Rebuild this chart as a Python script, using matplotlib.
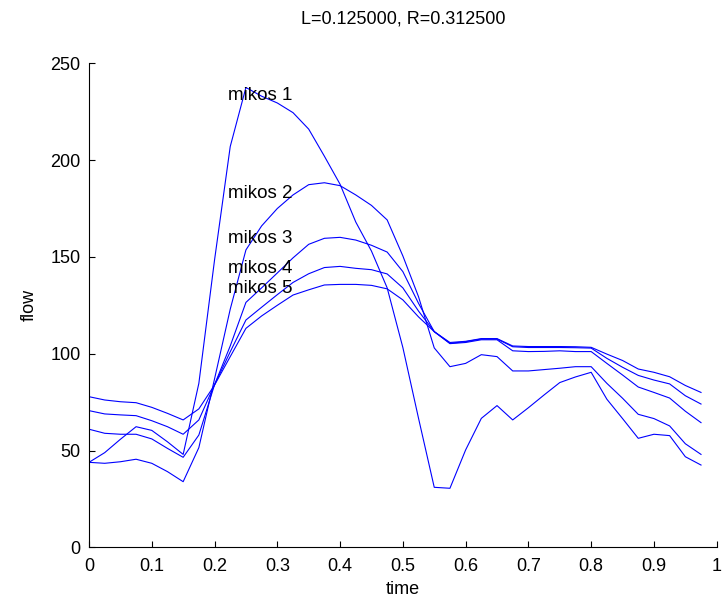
import numpy as np
import matplotlib
matplotlib.use("Agg")
import matplotlib.pyplot as plt

plt.rcParams['font.family'] = ['Liberation Sans', 'DejaVu Sans']

# time samples, step 0.025
time = np.arange(40) * 0.025

mikos1 = [43.9, 48.9, 55.8, 62.3, 60.4, 54.5, 48.0, 84.7, 148.4, 207.0,
          237.5, 233.0, 229.5, 224.5, 216.0, 202.0, 187.5, 168.0, 153.0, 134.0,
          103.2, 66.6, 31.0, 30.5, 50.3, 66.6, 73.2, 65.8, 72.1, 78.7,
          85.1, 88.0, 90.4, 76.5, 66.5, 56.3, 58.4, 57.7, 46.8, 42.5]
mikos2 = [43.9, 43.4, 44.2, 45.5, 43.4, 39.1, 33.9, 51.5, 87.0, 123.0,
          153.6, 166.0, 175.0, 182.0, 187.3, 188.3, 186.8, 182.0, 176.6, 169.1,
          150.5, 129.4, 103.0, 93.3, 95.0, 99.5, 98.5, 91.1, 91.1, 91.8,
          92.5, 93.3, 93.3, 84.7, 77.0, 68.7, 66.5, 62.7, 53.5, 48.0]
mikos3 = [61.0, 58.9, 58.4, 58.4, 56.0, 51.1, 46.5, 58.0, 84.0, 104.0,
          126.5, 134.0, 141.7, 149.5, 156.5, 159.6, 160.1, 158.7, 156.0, 152.5,
          142.4, 126.0, 111.4, 105.2, 105.8, 107.2, 107.2, 101.5, 101.1, 101.2,
          101.5, 101.1, 101.1, 95.0, 89.0, 82.8, 80.0, 77.1, 70.3, 64.4]
mikos4 = [70.6, 68.9, 68.4, 68.0, 65.4, 62.3, 58.4, 65.8, 84.0, 101.0,
          117.4, 124.0, 130.5, 136.8, 141.3, 144.5, 145.1, 144.1, 143.4, 141.2,
          134.0, 122.0, 111.4, 105.4, 106.2, 107.6, 107.6, 103.6, 103.2, 103.2,
          103.2, 103.1, 102.9, 97.6, 93.0, 88.8, 86.4, 84.4, 78.3, 74.0]
mikos5 = [77.8, 76.1, 75.2, 74.7, 72.3, 69.2, 65.8, 71.5, 83.8, 98.5,
          113.1, 119.5, 125.0, 130.3, 133.0, 135.5, 135.8, 135.8, 135.3, 133.5,
          127.8, 119.0, 111.4, 105.8, 106.4, 107.8, 107.8, 104.0, 103.7, 103.7,
          103.7, 103.6, 103.3, 99.8, 96.5, 92.1, 90.4, 88.1, 83.6, 80.0]

series = [mikos1, mikos2, mikos3, mikos4, mikos5]
labels = ["mikos 1", "mikos 2", "mikos 3", "mikos 4", "mikos 5"]
label_y = [233.3, 182.8, 159.4, 144.1, 133.8]
label_x = 0.222

fig = plt.figure(figsize=(7.23, 5.97), dpi=100)
ax = fig.add_axes([0.1231, 0.0832, 0.8682, 0.8108])

for s in series:
    ax.plot(time, s, color='#0000ff', lw=0.8)

for lab, ly in zip(labels, label_y):
    ax.text(label_x, ly, lab, ha='left', va='center', fontsize=13.5)

ax.set_xlim(0, 1)
ax.set_ylim(0, 250)
ax.set_xticks(np.arange(0, 1.01, 0.1))
ax.set_xticklabels(["0", "0.1", "0.2", "0.3", "0.4", "0.5", "0.6", "0.7", "0.8", "0.9", "1"])
ax.set_yticks(np.arange(0, 251, 50))
ax.spines['top'].set_visible(False)
ax.spines['right'].set_visible(False)
ax.tick_params(direction='in', length=4, labelsize=13, width=0.8)
ax.tick_params(axis='x', pad=8)
ax.tick_params(axis='y', pad=6)
ax.spines['left'].set_linewidth(0.8)
ax.spines['bottom'].set_linewidth(0.8)
ax.set_xlabel("time", fontsize=13, labelpad=4)
ax.set_ylabel("flow", fontsize=13, labelpad=9)
ax.set_title("L=0.125000, R=0.312500", fontsize=13, pad=29)

fig.savefig("out.png", dpi=100)
